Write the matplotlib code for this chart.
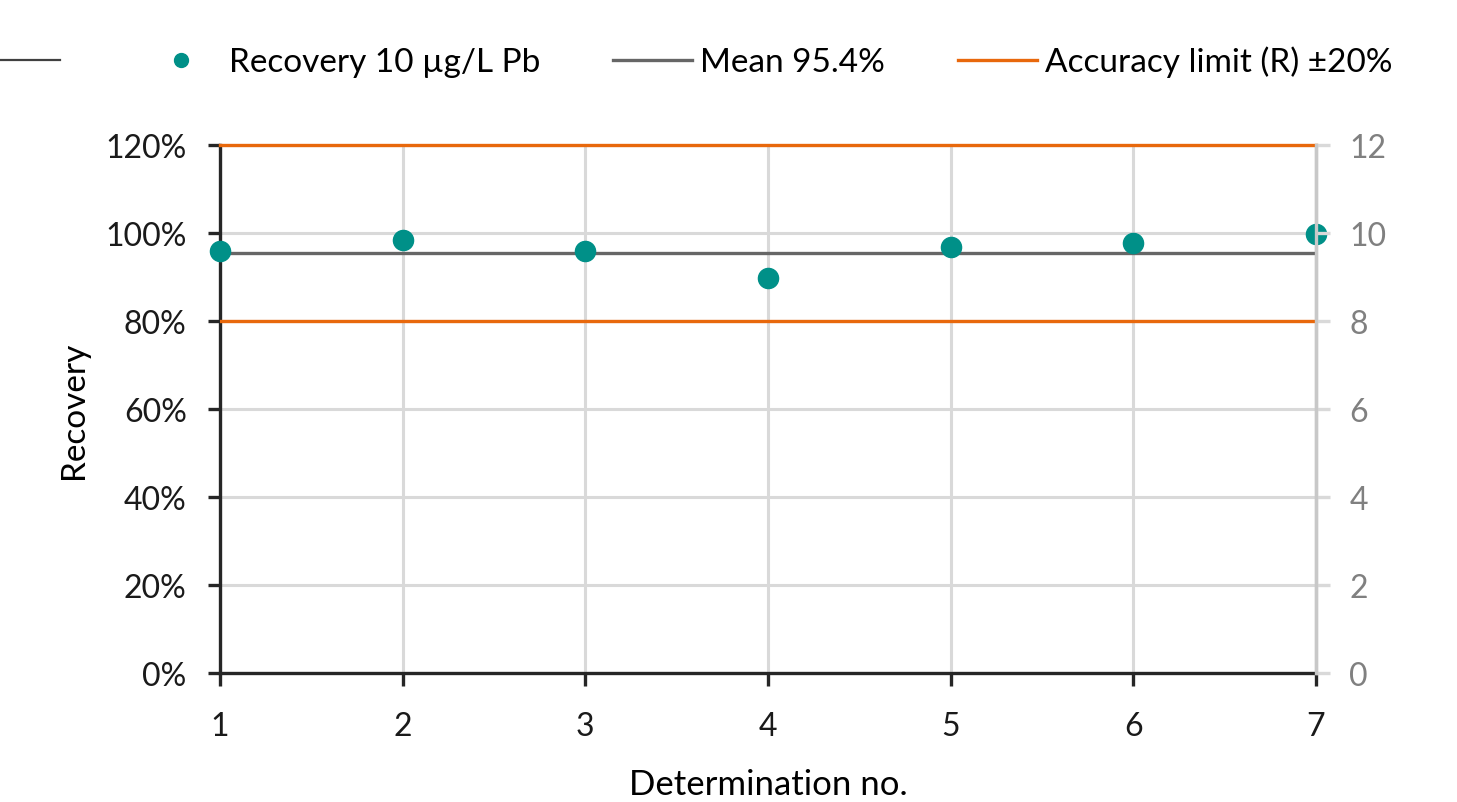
import numpy as np
import matplotlib.pyplot as plt
from matplotlib.lines import Line2D
from matplotlib.ticker import FuncFormatter

plt.rcParams['font.family'] = ['Lato', 'DejaVu Sans']

# data
determination = [1, 2, 3, 4, 5, 6, 7]
recovery = [95.9, 98.5, 95.9, 89.7, 96.9, 97.8, 99.7]
mean_recovery = 95.4
limit_low, limit_high = 80, 120
y_ticks = [0, 20, 40, 60, 80, 100, 120]
y2_ticks = [0, 2, 4, 6, 8, 10, 12]

teal = '#009088'
orange = '#e8680c'
grey_mean = '#666666'
dark = '#262626'
grid_c = '#d9d9d9'

fig = plt.figure(figsize=(14.57, 8.03), dpi=100)
ax = fig.add_axes([0.151, 0.1606, 0.7522, 0.6576])

ax.set_xlim(1, 7)
ax.set_ylim(0, 120)
ax.set_xticks(determination)
ax.set_yticks(y_ticks)
ax.yaxis.set_major_formatter(FuncFormatter(lambda v, p: '%d%%' % v))
ax.grid(True, color=grid_c, lw=2.2, zorder=0)
ax.set_axisbelow(True)

ax.spines['top'].set_visible(False)
ax.spines['right'].set_color('#c8c8c8')
ax.spines['right'].set_linewidth(2.4)
ax.spines['left'].set_color(dark)
ax.spines['left'].set_linewidth(2.4)
ax.spines['bottom'].set_color(dark)
ax.spines['bottom'].set_linewidth(2.4)
ax.tick_params(axis='both', direction='out', length=9, width=2.4, color=dark,
               labelsize=23, labelcolor='#1a1a1a', pad=15)
ax.tick_params(axis='x', pad=18)

# right axis (0-12)
ax2 = ax.twinx()
ax2.set_ylim(0, 12)
ax2.set_yticks(y2_ticks)
for s in ['top', 'left', 'bottom']:
    ax2.spines[s].set_visible(False)
ax2.spines['right'].set_color('#c8c8c8')
ax2.spines['right'].set_linewidth(2.4)
ax2.tick_params(axis='y', direction='out', length=10, width=2.4, color='#d9d9d9',
                labelsize=23, labelcolor='#808080', pad=14)

ax.axhline(limit_high, color=orange, lw=2.4, zorder=3, clip_on=False)
ax.axhline(limit_low, color=orange, lw=2.4, zorder=3)
ax.axhline(mean_recovery, color=grey_mean, lw=2.4, zorder=3)
ax.plot(determination, recovery, 'o', color=teal, ms=14.5, zorder=5, clip_on=False)

ax.set_ylabel('Recovery', fontsize=24, labelpad=12)
ax.set_xlabel('Determination no.', fontsize=25, labelpad=20)

handles = [Line2D([], [], color='#404040', lw=1.6),
           Line2D([], [], ls='none', marker='o', color=teal, ms=10),
           Line2D([], [], color=grey_mean, lw=2.4),
           Line2D([], [], color=orange, lw=2.4)]
labels = ['', 'Recovery 10 µg/L Pb', 'Mean 95.4%', 'Accuracy limit (R) ±20%']
fig.legend(handles, labels, loc='center left', bbox_to_anchor=(-0.0124, 0.922),
           ncol=4, frameon=False, fontsize=24, handlelength=2.35,
           handletextpad=0.25, columnspacing=2.2, borderaxespad=0, borderpad=0)

fig.savefig('out.png', dpi=100)
